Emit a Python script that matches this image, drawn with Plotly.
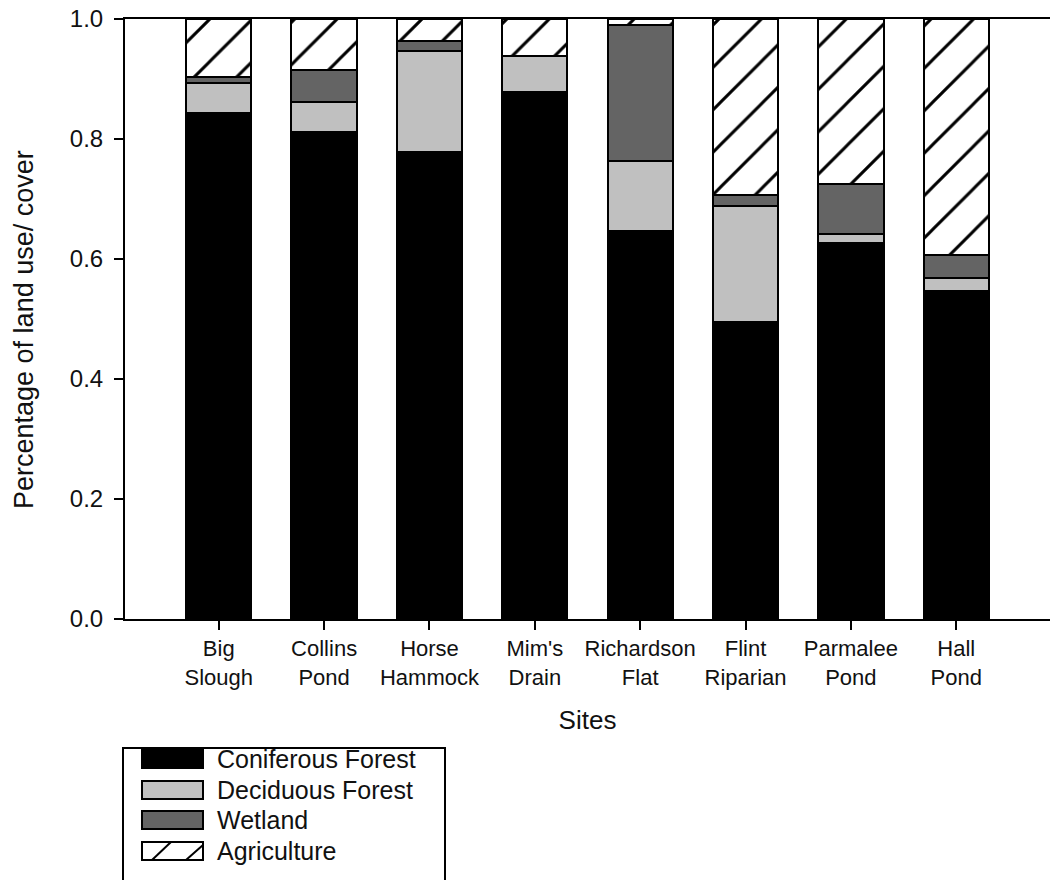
import plotly.graph_objects as go

# Sites and land-cover fractions (stacked to 1.0)
sites = ["Big<br>Slough", "Collins<br>Pond", "Horse<br>Hammock", "Mim's<br>Drain",
         "Richardson<br>Flat", "Flint<br>Riparian", "Parmalee<br>Pond", "Hall<br>Pond"]
coniferous = [0.843, 0.812, 0.779, 0.879, 0.646, 0.495, 0.626, 0.547]
deciduous = [0.051, 0.049, 0.167, 0.060, 0.117, 0.194, 0.016, 0.021]
wetland = [0.009, 0.054, 0.017, 0.000, 0.227, 0.018, 0.083, 0.039]
agriculture = [0.097, 0.085, 0.037, 0.061, 0.010, 0.293, 0.275, 0.393]

series_names = ["Coniferous Forest", "Deciduous Forest", "Wetland", "Agriculture"]
FONT = "Liberation Sans, Arial, sans-serif"
W, H = 1050, 880
L, R, T, B = 125, 0, 19, 261

xpos = list(range(len(sites)))
outline = dict(color="black", width=2)

fig = go.Figure()
fig.add_trace(go.Bar(x=xpos, y=coniferous, name=series_names[0],
                     marker=dict(color="#000000", line=outline)))
fig.add_trace(go.Bar(x=xpos, y=deciduous, name=series_names[1],
                     marker=dict(color="#c0c0c0", line=outline)))
fig.add_trace(go.Bar(x=xpos, y=wetland, name=series_names[2],
                     marker=dict(color="#646464", line=outline)))
fig.add_trace(go.Bar(x=xpos, y=agriculture, name=series_names[3],
                     marker=dict(color="white", line=outline,
                                 pattern=dict(shape="/", fgcolor="#000000", fgopacity=1,
                                              bgcolor="white", size=30, solidity=0.1))))

# pixel -> paper helpers for the hand-drawn legend
pw, ph = W - L - R, H - T - B
def px_x(p):
    return (p - L) / pw
def px_y(p):
    return (H - B - p) / ph

shapes = []
annotations = []
# legend frame (runs off the bottom edge)
shapes.append(dict(type="rect", xref="paper", yref="paper",
                   x0=px_x(123), x1=px_x(445), y0=px_y(900), y1=px_y(748),
                   line=dict(color="black", width=2), fillcolor="white", layer="above"))
swatch_fill = ["#000000", "#c0c0c0", "#646464", "white"]
rows = [759, 790, 820, 851]
for name, fill, cy in zip(series_names, swatch_fill, rows):
    shapes.append(dict(type="rect", xref="paper", yref="paper",
                       x0=px_x(142), x1=px_x(203), y0=px_y(cy + 9), y1=px_y(cy - 9),
                       line=dict(color="black", width=2), fillcolor=fill, layer="above"))
    annotations.append(dict(text=name, xref="paper", yref="paper",
                            x=px_x(215), y=px_y(cy), xanchor="left", yanchor="middle",
                            showarrow=False, font=dict(family=FONT, size=25, color="#111")))
# hatch strokes inside the agriculture swatch
for (xa, ya, xb, yb) in [(152, 860, 171, 842), (186, 860, 203, 845)]:
    shapes.append(dict(type="line", xref="paper", yref="paper",
                       x0=px_x(xa), y0=px_y(ya), x1=px_x(xb), y1=px_y(yb),
                       line=dict(color="black", width=2), layer="above"))

annotations.append(dict(text="Percentage of land use/ cover", xref="paper", yref="paper",
                        x=px_x(24), y=px_y(330), xanchor="center", yanchor="middle",
                        textangle=-90, showarrow=False,
                        font=dict(family=FONT, size=27, color="#111")))

fig.update_layout(
    width=W, height=H,
    margin=dict(l=L, r=R, t=T, b=B, pad=0),
    paper_bgcolor="white", plot_bgcolor="white",
    barmode="stack", bargap=0.38,
    showlegend=False,
    font=dict(family=FONT, size=22, color="#111"),
    shapes=shapes, annotations=annotations,
)
fig.update_xaxes(
    range=[-0.89, 7.89], tickmode="array", tickvals=xpos, ticktext=sites,
    showline=True, linecolor="black", linewidth=2, mirror=True,
    ticks="outside", ticklen=9, tickwidth=2, tickcolor="black",
    showgrid=False, zeroline=False,
    tickfont=dict(family=FONT, size=22, color="#111"),
    title=dict(text="Sites", font=dict(family=FONT, size=26, color="#111"), standoff=22),
)
fig.update_yaxes(
    range=[0, 1.0], tickmode="array", tickvals=[0, 0.2, 0.4, 0.6, 0.8, 1.0],
    ticktext=["0.0", "0.2", "0.4", "0.6", "0.8", "1.0"],
    showline=True, linecolor="black", linewidth=2, mirror=False,
    ticks="outside", ticklen=9, tickwidth=2, tickcolor="black",
    showgrid=False, zeroline=False,
    tickfont=dict(family=FONT, size=24, color="#111"),
    ticklabelstandoff=6,
)

fig.write_html("out.html")
